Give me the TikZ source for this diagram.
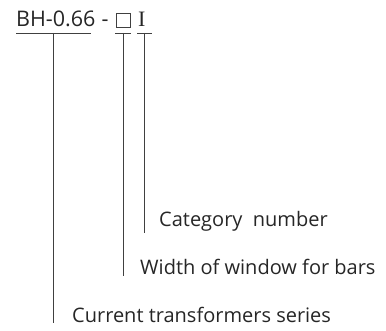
\documentclass[tikz,border=0pt]{standalone}
\usepackage{fontspec}
\setmainfont{Open Sans}
\newfontfamily\serifI{Liberation Serif}
\begin{document}
\begin{tikzpicture}[x=1pt,y=-1pt,
  lbl/.style={anchor=base west,inner sep=0pt,font=\fontsize{20}{24}\selectfont,text=black!85},
  ttl/.style={anchor=base west,inner sep=0pt,font=\fontsize{21.5}{26}\selectfont,text=black!85},
  ln/.style={draw=black!75,line width=0.8pt}]
\useasboundingbox (0,0) rectangle (386,331);
% title parts
\node[ttl] (bh) at (16,27) {BH-0.66};
\node[ttl] (dash) at (101.5,27) {-};
\node[draw=black!75,line width=0.7pt,minimum width=14.5pt,minimum height=14.5pt,inner sep=0pt,anchor=south west] (box) at (115.5,28) {};
\node[ttl,font=\fontsize{22}{26}\selectfont\serifI] (ii) at (138,27) {I};
% underlines
\coordinate (u1a) at (16,33); \coordinate (u1b) at (91,33);
\coordinate (u2a) at (115,33); \coordinate (u2b) at (131,33);
\coordinate (u3a) at (137,33); \coordinate (u3b) at (152,33);
\draw[ln] (u1a) -- (u1b);
\draw[ln] (u2a) -- (u2b);
\draw[ln] (u3a) -- (u3b);
% labels
\node[lbl] (cat) at (159,227) {Category\ \ number};
\node[lbl] (wid) at (140,275) {Width of window for bars};
\node[lbl] (cur) at (72,323) {Current transformers series};
% leaders
\coordinate (t1) at (53,33); \coordinate (b1) at (53,323);
\coordinate (t2) at (123,33); \coordinate (b2) at (123,276);
\coordinate (t3) at (144,33); \coordinate (b3) at (144,233);
\draw[ln] (t1) -- (b1);
\draw[ln] (t2) -- (b2);
\draw[ln] (t3) -- (b3);
\end{tikzpicture}
\end{document}
